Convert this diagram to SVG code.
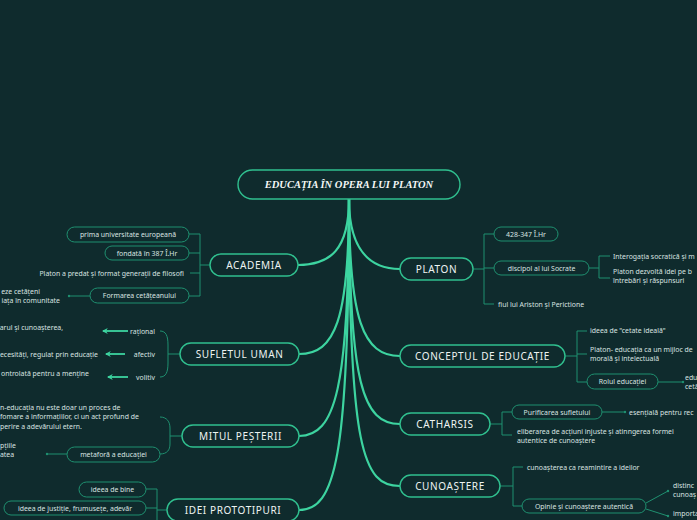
<svg xmlns="http://www.w3.org/2000/svg" width="697" height="520" viewBox="0 0 697 520">
<defs>
<style>
.main{fill:none;stroke:#3dd4a0;stroke-width:2.2;stroke-linecap:round}
.br{fill:none;stroke:#1f9070;stroke-width:1}
.ar{fill:none;stroke:#3dd4a0;stroke-width:1.8}
.nd{fill:#0f2b2d;stroke:#30c08f;stroke-width:1.4}
.sb{fill:#0f2b2d;stroke:#1f9070;stroke-width:1}
.dot{fill:#1f9070}
.t{fill:#eef4f2;font-family:"Noto Sans",sans-serif;font-size:10px;letter-spacing:0.6px;text-anchor:middle}
.s{fill:#d9e3e0;font-family:"Noto Sans",sans-serif;font-size:6.9px}
.m{text-anchor:middle}
.e{text-anchor:end}
.root{fill:#f4f7f6;font-family:"Liberation Serif",serif;font-style:italic;font-weight:bold;font-size:10.5px;text-anchor:middle}
</style>
<marker id="ah" viewBox="0 0 10 10" refX="8" refY="5" markerWidth="6" markerHeight="6" orient="auto" markerUnits="userSpaceOnUse">
<path d="M0,0 L10,5 L0,10 L3,5 Z" fill="#3dd4a0"/>
</marker>
</defs>
<rect width="697" height="520" fill="#0f2b2d"/>

<g id="connectors">
<path class="main" d="M349,199 C349,250 330,265 298,265"/>
<path class="main" d="M349,199 C349,250 370,269 400,269"/>
<path class="main" d="M349,199 C349,320 335,354 299,354"/>
<path class="main" d="M349,199 C349,390 335,436 299,436"/>
<path class="main" d="M349,199 C349,460 335,510 299,510"/>
<path class="main" d="M349,199 C349,320 363,356 400,356"/>
<path class="main" d="M349,199 C349,385 363,424 400,424"/>
<path class="main" d="M349,199 C349,450 363,486 400,486"/>
<!-- ACADEMIA -->
<path class="br" d="M210,265 H200 M200,234 V296 M189,234 H200 M189,253 H200 M190,273 H200 M189,296 H200 M90,296 H69"/>
<!-- PLATON -->
<path class="br" d="M473,269 H484 M484,234 V304 M484,234 H494 M484,268 H494 M484,304 H494 M589,268 H599 M599,256 V278 M599,256 H610 M599,278 H610"/>
<!-- SUFLETUL -->
<path class="br" d="M160,331 C166,331 168,336 168,345 L168,363 C168,372 166,377 160,377 M168,354 H180"/>
<path class="ar" d="M128,331 H103" marker-end="url(#ah)"/>
<path class="ar" d="M125,354 H106" marker-end="url(#ah)"/>
<path class="ar" d="M128,377 H108" marker-end="url(#ah)"/>
<!-- MITUL -->
<path class="br" d="M160,417 C167,417 170,422 170,428 L170,444 C170,450 167,454 160,454 M170,436 H182 M67,454 H47"/>
<!-- IDEI -->
<path class="br" d="M167,510 H157 M157,489 V520 M146,489 H157 M146,508 H157"/>
<!-- CONCEPTUL -->
<path class="br" d="M565,356 H577 M577,331 V382 M577,331 H587 M577,354 H587 M577,382 H587 M658,382 H683"/>
<!-- CATHARSIS -->
<path class="br" d="M490,424 H502 M502,412 V435 M502,412 H512 M502,435 H512 M602,412 H625"/>
<!-- CUNOASTERE -->
<path class="br" d="M500,486 H513 M513,467 V506 M513,467 H523 M513,506 H522 M646,503 L668,491 M646,509 L668,516"/>
<circle class="dot" cx="69" cy="296" r="1.2"/>
<circle class="dot" cx="47" cy="454" r="1.2"/>
<circle class="dot" cx="683" cy="382" r="1.2"/>
<circle class="dot" cx="625" cy="412" r="1.2"/>
<circle class="dot" cx="668" cy="491" r="1.2"/>
<circle class="dot" cx="668" cy="516" r="1.2"/>
</g>

<g id="root">
<rect class="nd" x="238" y="170" width="222" height="29" rx="14.5"/>
<text class="root" x="349" y="188">EDUCAȚIA ÎN OPERA LUI PLATON</text>
</g>

<g id="academia">
<rect class="nd" x="210" y="254" width="88" height="22" rx="11"/>
<text class="t" x="254" y="268.5">ACADEMIA</text>
</g>
<g id="academia-1">
<rect class="sb" x="67" y="227" width="122" height="15" rx="7.5"/>
<text class="s m" x="128" y="236.5">prima universitate europeană</text>
</g>
<g id="academia-2">
<rect class="sb" x="105" y="246" width="84" height="14" rx="7"/>
<text class="s m" x="147" y="255.5">fondată în 387 Î.Hr</text>
</g>
<g id="academia-3">
<text class="s e" x="184" y="275.5">Platon a predat și format generații de filosofi</text>
</g>
<g id="academia-4">
<rect class="sb" x="90" y="288" width="99" height="15" rx="7.5"/>
<text class="s m" x="139.5" y="298">Formarea cetățeanului</text>
</g>
<g id="academia-4-1">
<text class="s e" x="40" y="294">eze cetățeni</text>
<text class="s e" x="60" y="303">iața în comunitate</text>
</g>

<g id="platon">
<rect class="nd" x="400" y="258" width="73" height="22" rx="11"/>
<text class="t" x="436.5" y="272.5">PLATON</text>
</g>
<g id="platon-1">
<rect class="sb" x="494" y="227" width="64" height="14" rx="7"/>
<text class="s m" x="526" y="236.5">428-347 Î.Hr</text>
</g>
<g id="platon-2">
<rect class="sb" x="494" y="261" width="95" height="14" rx="7"/>
<text class="s m" x="541.5" y="270.5">discipol al lui Socrate</text>
</g>
<g id="platon-2-1">
<text class="s" x="613" y="258.5">Interogația socratică și m</text>
</g>
<g id="platon-2-2">
<text class="s" x="613" y="273.5">Platon dezvoltă idei pe b</text>
<text class="s" x="613" y="283">întrebări și răspunsuri</text>
</g>
<g id="platon-3">
<text class="s" x="498" y="306.5">fiul lui Ariston și Perictione</text>
</g>

<g id="suflet">
<rect class="nd" x="180" y="343" width="119" height="22" rx="11"/>
<text class="t" x="239.5" y="357.5">SUFLETUL UMAN</text>
</g>
<g id="suflet-1">
<text class="s e" x="155" y="333.5">rațional</text>
<text class="s e" x="63" y="329.5">arul și cunoașterea,</text>
</g>
<g id="suflet-2">
<text class="s e" x="155" y="356.5">afectiv</text>
<text class="s e" x="98" y="356.5">ecesități, regulat prin educație</text>
</g>
<g id="suflet-3">
<text class="s e" x="155" y="379.5">volitiv</text>
<text class="s e" x="89" y="375.5">ontrolată pentru a menține</text>
</g>

<g id="mitul">
<rect class="nd" x="182" y="425" width="117" height="22" rx="11"/>
<text class="t" x="240.5" y="439.5">MITUL PEȘTERII</text>
</g>
<g id="mitul-1">
<text class="s" x="0" y="409.5">n-educația nu este doar un proces de</text>
<text class="s" x="0" y="418.5">fomare a informațiilor, ci un act profund de</text>
<text class="s" x="0" y="428.5">perire a adevărului etern.</text>
</g>
<g id="mitul-2">
<rect class="sb" x="67" y="447" width="93" height="15" rx="7.5"/>
<text class="s m" x="113.5" y="456.5">metaforă a educației</text>
</g>
<g id="mitul-2-1">
<text class="s" x="0" y="447.5">pțiile</text>
<text class="s" x="0" y="456.5">atea</text>
</g>

<g id="idei">
<rect class="nd" x="167" y="499" width="132" height="22" rx="11"/>
<text class="t" x="233" y="513.5">IDEI PROTOTIPURI</text>
</g>
<g id="idei-1">
<rect class="sb" x="79" y="482" width="67" height="15" rx="7.5"/>
<text class="s m" x="112.5" y="491.5">ideea de bine</text>
</g>
<g id="idei-2">
<rect class="sb" x="4" y="501" width="142" height="14" rx="7"/>
<text class="s m" x="75" y="510.5">ideea de justiție, frumusețe, adevăr</text>
</g>

<g id="concept">
<rect class="nd" x="400" y="345" width="165" height="22" rx="11"/>
<text class="t" x="482.5" y="359.5">CONCEPTUL DE EDUCAȚIE</text>
</g>
<g id="concept-1">
<text class="s" x="590" y="332.5">ideea de "cetate ideală"</text>
</g>
<g id="concept-2">
<text class="s" x="590" y="352">Platon- educația ca un mijloc de</text>
<text class="s" x="590" y="360.5">morală și intelectuală</text>
</g>
<g id="concept-3">
<rect class="sb" x="587" y="374" width="71" height="15" rx="7.5"/>
<text class="s m" x="622.5" y="384">Rolul educației</text>
</g>
<g id="concept-3-1">
<text class="s" x="685" y="380">edu</text>
<text class="s" x="685" y="389">cetă</text>
</g>

<g id="catharsis">
<rect class="nd" x="400" y="413" width="90" height="22" rx="11"/>
<text class="t" x="445" y="427.5">CATHARSIS</text>
</g>
<g id="catharsis-1">
<rect class="sb" x="512" y="405" width="90" height="14" rx="7"/>
<text class="s m" x="557" y="414.5">Purificarea sufletului</text>
</g>
<g id="catharsis-1-1">
<text class="s" x="629" y="414.5">esențială pentru rec</text>
</g>
<g id="catharsis-2">
<text class="s" x="517" y="433.5">eliberarea de acțiuni injuste și atinngerea formei</text>
<text class="s" x="517" y="443">autentice de cunoaștere</text>
</g>

<g id="cunoastere">
<rect class="nd" x="400" y="475" width="100" height="22" rx="11"/>
<text class="t" x="450" y="489.5">CUNOAȘTERE</text>
</g>
<g id="cunoastere-1">
<text class="s" x="527" y="469.5">cunoașterea ca reamintire a ideilor</text>
</g>
<g id="cunoastere-2">
<rect class="sb" x="522" y="499" width="124" height="14" rx="7"/>
<text class="s m" x="584" y="508.5">Opinie și cunoaștere autentică</text>
</g>
<g id="cunoastere-2-1">
<text class="s" x="673" y="488">distinc</text>
<text class="s" x="673" y="497">cunoaș</text>
</g>
<g id="cunoastere-2-2">
<text class="s" x="673" y="516">importa</text>
</g>
</svg>
